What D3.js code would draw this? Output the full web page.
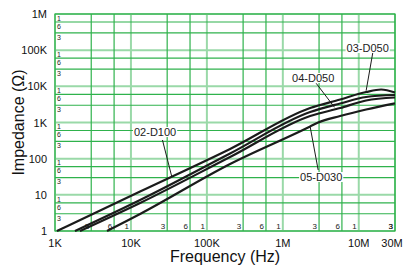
<!DOCTYPE html>
<html>
<head>
<meta charset="utf-8">
<script src="https://cdn.jsdelivr.net/npm/d3@7"></script>
<style>
  body { margin: 0; background: #fff; }
  svg { display: block; font-family: "Liberation Sans", Arial, sans-serif; }
</style>
</head>
<body>
<svg id="chart"></svg>
<script>
const svgWidth = 406;
const svgHeight = 269;
const margin = { top: 14, right: 11, bottom: 38, left: 55 };

// frequencies (Hz) and impedance (ohm)
const freq_02 = [1.06e3, 13.2e3, 202e3, 2.29e6, 5.69e6, 12.5e6, 19.7e6, 30e6];
const z_02 = [1, 12.3, 185, 2515, 4320, 6970, 8170, 6745];
const freq_03 = [1.83e3, 13.2e3, 202e3, 2.29e6, 5.69e6, 12.5e6, 30e6];
const z_03 = [1, 7.2, 139, 1950, 3350, 5070, 5755];
const freq_04 = [2.13e3, 13.2e3, 202e3, 2.29e6, 5.69e6, 12.5e6, 30e6];
const z_04 = [1, 5.95, 111, 1511, 2515, 4055, 4910];
const freq_05 = [4.84e3, 13.2e3, 202e3, 2.29e6, 2.92e6, 5.69e6, 12.5e6, 30e6];
const z_05 = [1, 2.95, 71, 775, 1000, 1511, 2287, 3393];

const x_ticks = [1e3, 1e4, 1e5, 1e6, 1e7, 3e7];
const x_tick_labels = ["1K", "10K", "100K", "1M", "10M", "30M"];
const y_ticks = [1, 10, 100, 1e3, 1e4, 1e5, 1e6];
const y_tick_labels = ["1", "10", "100", "1K", "10K", "100K", "1M"];
const minor_steps = [3, 6];

// label text, label anchor, leader start, leader end  (f, Z)
const notes = [
  { name: "02-D100", at: [20.8e3, 423], from: [26e3, 328], to: [34.5e3, 31.7] },
  { name: "04-D050", at: [2.51e6, 13.2e3], from: [2.75e6, 12.1e3], to: [4.79e6, 2630] },
  { name: "03-D050", at: [13.1e6, 88.9e3], from: [15.3e6, 85.1e3], to: [12.5e6, 7570] },
  { name: "05-D030", at: [3.2e6, 24.1], from: [2.92e6, 48.6], to: [2.29e6, 765] }
];

const series = [
  { f: freq_02, z: z_02 },
  { f: freq_03, z: z_03 },
  { f: freq_04, z: z_04 },
  { f: freq_05, z: z_05 }
];

const svg = d3.select('#chart')
  .attr('width', svgWidth)
  .attr('height', svgHeight);

const x = d3.scaleLog()
  .domain([1e3, 3e7])
  .range([margin.left, svgWidth - margin.right]);
const y = d3.scaleLog()
  .domain([1, 1e6])
  .range([svgHeight - margin.bottom, margin.top]);

const darkGreen = '#2fb24c';
const lightGreen = '#9ad9a8';

// minor grid values
let x_minor = [];
for (let d = 1e3; d < 3e7; d *= 10) {
  minor_steps.forEach(m => { if (d * m <= 3e7) x_minor.push(d * m); });
}
let y_minor = [];
for (let d = 1; d < 1e6; d *= 10) {
  minor_steps.forEach(m => y_minor.push(d * m));
}

const grid = svg.append('g');
grid.selectAll('.hmaj').data(y_ticks).enter().append('line')
  .attr('x1', x.range()[0]).attr('x2', x.range()[1])
  .attr('y1', d => y(d)).attr('y2', d => y(d))
  .attr('stroke', lightGreen).attr('stroke-width', 2);
grid.selectAll('.vmaj').data(x_ticks.slice(0, 5)).enter().append('line')
  .attr('y1', y.range()[0]).attr('y2', y.range()[1])
  .attr('x1', d => x(d)).attr('x2', d => x(d))
  .attr('stroke', lightGreen).attr('stroke-width', 2);
grid.selectAll('.hmin').data(y_minor).enter().append('line')
  .attr('x1', x.range()[0]).attr('x2', x.range()[1])
  .attr('y1', d => y(d)).attr('y2', d => y(d))
  .attr('stroke', darkGreen).attr('stroke-width', 1.2);
grid.selectAll('.vmin').data(x_minor).enter().append('line')
  .attr('y1', y.range()[0]).attr('y2', y.range()[1])
  .attr('x1', d => x(d)).attr('x2', d => x(d))
  .attr('stroke', darkGreen).attr('stroke-width', 1.2);
grid.append('rect')
  .attr('x', x.range()[0]).attr('y', y.range()[1])
  .attr('width', x.range()[1] - x.range()[0])
  .attr('height', y.range()[0] - y.range()[1])
  .attr('fill', 'none').attr('stroke', darkGreen).attr('stroke-width', 1.2);

// small 1 / 6 / 3 labels inside the grid
const digit = v => String(Math.round(v / Math.pow(10, Math.floor(Math.log10(v) + 1e-9))));
let y_small = y_ticks.slice(1).concat(y_minor.filter(v => v > 1));
svg.append('g').selectAll('text').data(y_small).enter().append('text')
  .attr('x', x.range()[0] + 2)
  .attr('y', d => y(d) + 6.8)
  .attr('font-size', 7).attr('fill', '#222')
  .text(digit);
let x_small = x_ticks.slice(1).concat(x_minor);
svg.append('g').selectAll('text').data(x_small).enter().append('text')
  .attr('x', d => x(d) - 2)
  .attr('y', y.range()[0] - 2)
  .attr('text-anchor', 'end')
  .attr('font-size', 8).attr('fill', '#222')
  .text(digit);

// curves
const line = d3.line()
  .x(d => x(d[0]))
  .y(d => y(d[1]))
  .curve(d3.curveMonotoneX);
svg.append('g').selectAll('path').data(series).enter().append('path')
  .attr('d', s => line(s.f.map((f, i) => [f, s.z[i]])))
  .attr('fill', 'none')
  .attr('stroke', '#1b1b1b')
  .attr('stroke-width', 2.2)
  .attr('stroke-linejoin', 'round');

// leaders and labels
const noteG = svg.append('g');
noteG.selectAll('line').data(notes).enter().append('line')
  .attr('x1', d => x(d.from[0])).attr('y1', d => y(d.from[1]))
  .attr('x2', d => x(d.to[0])).attr('y2', d => y(d.to[1]))
  .attr('stroke', '#1b1b1b').attr('stroke-width', 1);
notes.forEach(n => {
  let t = noteG.append('text')
    .attr('x', x(n.at[0])).attr('y', y(n.at[1]))
    .attr('text-anchor', 'middle')
    .attr('font-size', 11).attr('fill', '#222')
    .text(n.name);
  let b = t.node().getBBox();
  noteG.insert('rect', 'text')
    .attr('x', b.x - 1).attr('y', b.y + 1)
    .attr('width', b.width + 2).attr('height', b.height - 2)
    .attr('fill', '#fff');
});

// tick labels
svg.append('g').selectAll('text').data(y_ticks).enter().append('text')
  .attr('x', margin.left - 8)
  .attr('y', d => y(d) + 4)
  .attr('text-anchor', 'end')
  .attr('font-size', 11).attr('fill', '#111')
  .text((d, i) => y_tick_labels[i]);
svg.append('g').selectAll('text').data(x_ticks).enter().append('text')
  .attr('x', (d, i) => x(d) - (i === x_ticks.length - 1 ? 3 : 0))
  .attr('y', y.range()[0] + 16)
  .attr('text-anchor', 'middle')
  .attr('font-size', 11).attr('fill', '#111')
  .text((d, i) => x_tick_labels[i]);

// axis titles
svg.append('text')
  .attr('x', (x.range()[0] + x.range()[1]) / 2)
  .attr('y', svgHeight - 7)
  .attr('text-anchor', 'middle')
  .attr('font-size', 16).attr('fill', '#111')
  .text('Frequency (Hz)');
svg.append('text')
  .attr('transform', `translate(24,${(y.range()[0] + y.range()[1]) / 2}) rotate(-90)`)
  .attr('text-anchor', 'middle')
  .attr('font-size', 16).attr('fill', '#111')
  .text('Impedance (Ω)');
</script>
</body>
</html>
